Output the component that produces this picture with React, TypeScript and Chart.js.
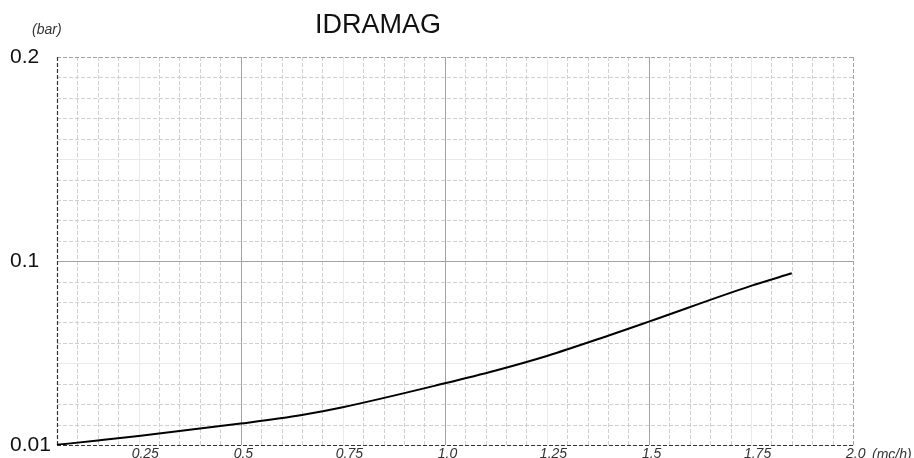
import React, { useEffect, useRef } from 'react';
import { Chart, registerables } from 'chart.js';

Chart.register(...registerables);

// Flow rate (mc/h) and pressure drop (bar)
const flowRate = [0.05, 0.15, 0.25, 0.5, 0.65, 0.75, 1.0, 1.125, 1.25, 1.4, 1.5, 1.75, 1.85];
const pressureDrop = [0.0101, 0.0122, 0.0144, 0.0205, 0.0247, 0.0285, 0.0402, 0.0465, 0.0536, 0.0635, 0.0704, 0.0879, 0.0941];

const xTickValues = [0.25, 0.5, 0.75, 1.0, 1.25, 1.5, 1.75, 2.0];
const xTickLabels = ['0.25', '0.5', '0.75', '1.0', '1.25', '1.5', '1.75', '2.0'];
const yTickValues = [0.01, 0.1, 0.2];
const yTickLabels = ['0.01', '0.1', '0.2'];

const X_MIN = 0.05;
const X_MAX = 2.0;
const Y_MIN = 0.01;
const Y_MAX = 0.2;
const GRID_STEP_X = 0.05;
const GRID_STEP_Y = 0.01;

const TITLE = 'IDRAMAG';
const Y_UNIT = '(bar)';
const X_UNIT = '(mc/h)';

const FONT = '"Liberation Sans", Arial, sans-serif';
const GREY = 'rgb(208,208,208)';
const YELLOW = 'rgb(246,246,130)';
const RED = 'rgb(242,132,112)';
const AXIS = '#333333';

const paperGrid = {
  id: 'paperGrid',
  beforeDatasetsDraw(chart: any) {
    const { ctx, chartArea: a, scales } = chart;
    const xs = scales.x;
    const ys = scales.y;
    const vLines: { p: number; kind: string }[] = [];
    const hLines: { p: number; kind: string }[] = [];
    const nx = Math.round((X_MAX - X_MIN) / GRID_STEP_X);
    for (let i = 0; i <= nx; i++) {
      const v = X_MIN + i * GRID_STEP_X;
      const k = Math.round(v * 100);
      let kind = 'grey';
      if (i === 0) kind = 'axis';
      else if (i === nx) kind = 'border';
      else if (k % 50 === 0) kind = 'red';
      else if (k % 25 === 0) kind = 'yellow';
      vLines.push({ p: Math.round(xs.getPixelForValue(v)) + 0.5, kind });
    }
    const ny = Math.round((Y_MAX - Y_MIN) / GRID_STEP_Y);
    for (let i = 0; i <= ny; i++) {
      const v = Y_MIN + i * GRID_STEP_Y;
      const k = Math.round(v * 100);
      let kind = 'grey';
      if (i === 0) kind = 'axis';
      else if (i === ny) kind = 'border';
      else if (k % 10 === 0) kind = 'red';
      else if (k % 5 === 0) kind = 'yellow';
      hLines.push({ p: Math.round(ys.getPixelForValue(v)) + 0.5, kind });
    }
    const styles: Record<string, { color: string; dash: number[]; width: number }> = {
      grey: { color: GREY, dash: [4, 2], width: 1 },
      yellow: { color: YELLOW, dash: [], width: 1 },
      red: { color: RED, dash: [], width: 1 },
      border: { color: RED, dash: [4, 2], width: 1 },
      axis: { color: AXIS, dash: [4, 2], width: 1.2 },
    };
    ctx.save();
    for (const kind of ['grey', 'yellow', 'red', 'border', 'axis']) {
      const s = styles[kind];
      ctx.strokeStyle = s.color;
      ctx.setLineDash(s.dash);
      ctx.lineWidth = s.width;
      ctx.beginPath();
      for (const l of vLines) {
        if (l.kind !== kind) continue;
        ctx.moveTo(l.p, a.top);
        ctx.lineTo(l.p, a.bottom);
      }
      for (const l of hLines) {
        if (l.kind !== kind) continue;
        ctx.moveTo(a.left, l.p);
        ctx.lineTo(a.right, l.p);
      }
      ctx.stroke();
    }
    ctx.restore();
  },
  afterDraw(chart: any) {
    const { ctx, scales } = chart;
    ctx.save();
    ctx.fillStyle = '#111111';
    ctx.font = `27px ${FONT}`;
    ctx.textAlign = 'center';
    ctx.textBaseline = 'alphabetic';
    ctx.fillText(TITLE, 378, 33);
    ctx.font = `italic 14px ${FONT}`;
    ctx.textAlign = 'left';
    ctx.fillStyle = '#333333';
    ctx.fillText(Y_UNIT, 32, 34);
    ctx.fillText(X_UNIT, scales.x.getPixelForValue(X_MAX) + 19, 459);
    ctx.restore();
  },
};

export default function App() {
  const ref = useRef<HTMLCanvasElement | null>(null);
  useEffect(() => {
    if (!ref.current) return;
    const chart = new Chart(ref.current, {
      type: 'scatter',
      data: {
        datasets: [
          {
            data: flowRate.map((x, i) => ({ x, y: pressureDrop[i] })),
            showLine: true,
            borderColor: '#000000',
            borderWidth: 2,
            pointRadius: 0,
            cubicInterpolationMode: 'monotone',
            fill: false,
          } as any,
        ],
      },
      options: {
        animation: false,
        responsive: false,
        maintainAspectRatio: false,
        layout: { padding: { left: 10, top: 57, right: 61, bottom: 0 } },
        plugins: {
          legend: { display: false },
          title: { display: false },
          tooltip: { enabled: false },
        },
        scales: {
          x: {
            type: 'linear',
            min: X_MIN,
            max: X_MAX,
            grid: { display: false, drawTicks: false },
            border: { display: false },
            afterBuildTicks: (s: any) => {
              s.ticks = xTickValues.map((value) => ({ value }));
            },
            afterFit: (s: any) => {
              s.height = 13;
            },
            ticks: {
              autoSkip: false,
              maxRotation: 0,
              align: 'start',
              labelOffset: -7,
              padding: 1,
              color: '#333333',
              font: { family: FONT, size: 14, style: 'italic' },
              callback: (v: any) => {
                const i = xTickValues.findIndex((t) => Math.abs(t - Number(v)) < 1e-6);
                return i >= 0 ? xTickLabels[i] : '';
              },
            },
          },
          y: {
            type: 'linear',
            min: Y_MIN,
            max: Y_MAX,
            grid: { display: false, drawTicks: false },
            border: { display: false },
            afterBuildTicks: (s: any) => {
              s.ticks = yTickValues.map((value) => ({ value }));
            },
            afterFit: (s: any) => {
              s.width = 47;
            },
            ticks: {
              autoSkip: false,
              crossAlign: 'far',
              padding: 0,
              color: '#111111',
              font: { family: FONT, size: 21 },
              callback: (v: any) => {
                const i = yTickValues.findIndex((t) => Math.abs(t - Number(v)) < 1e-6);
                return i >= 0 ? yTickLabels[i] : '';
              },
            },
          },
        },
      } as any,
      plugins: [paperGrid],
    });
    return () => chart.destroy();
  }, []);
  return (
    <div style={{ position: 'absolute', left: 0, top: 0, width: 914, height: 458, background: '#ffffff' }}>
      <canvas ref={ref} width={914} height={458} style={{ display: 'block' }} />
    </div>
  );
}
